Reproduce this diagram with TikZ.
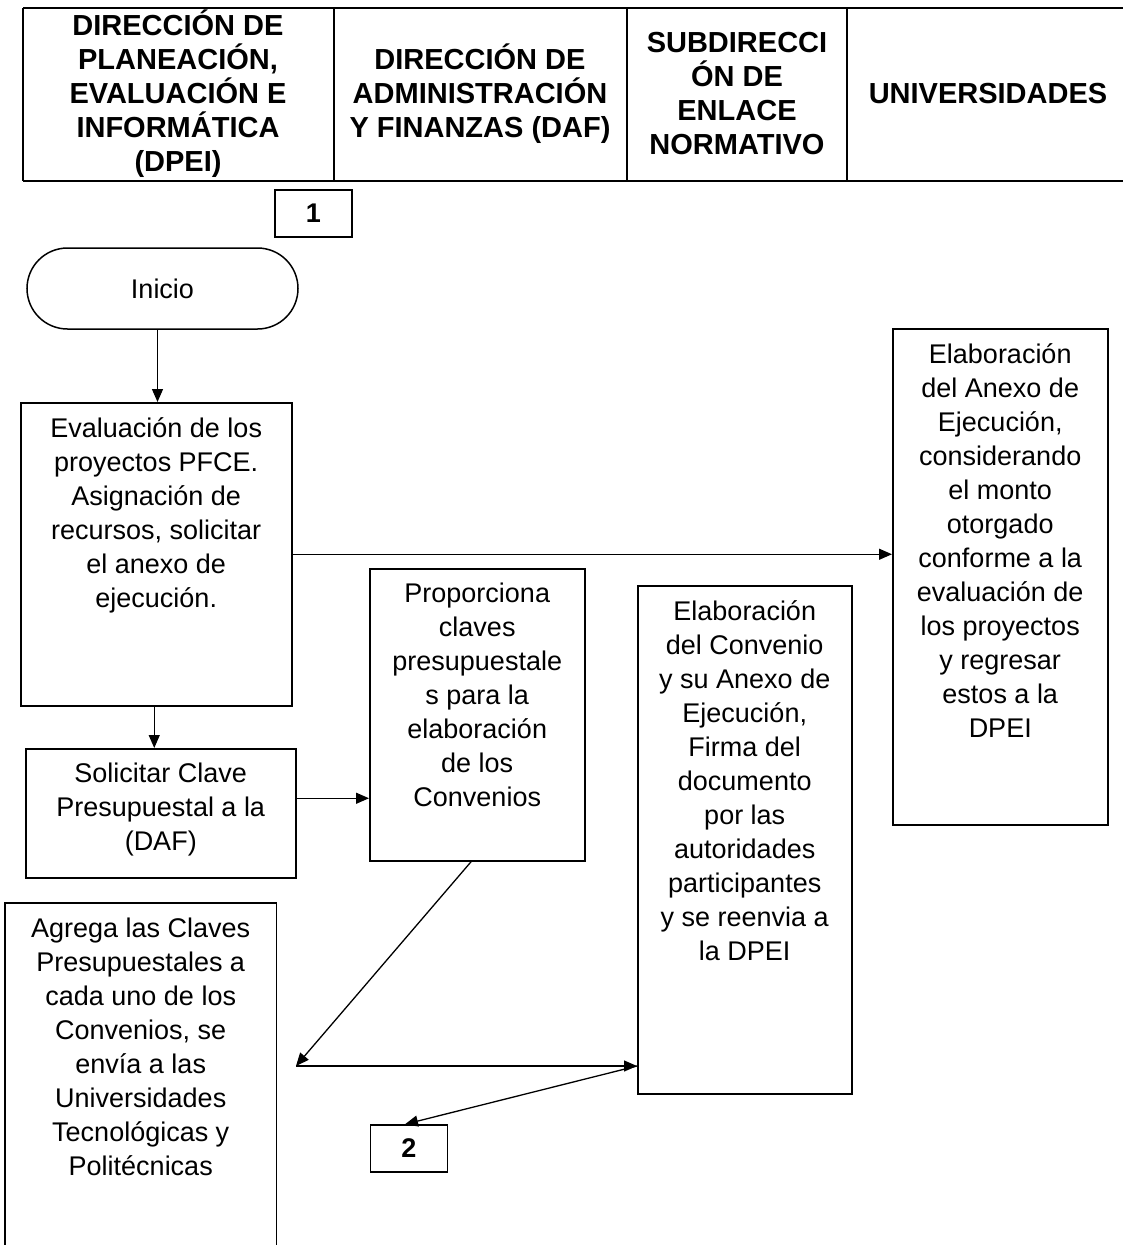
\documentclass[tikz,border=0pt]{standalone}
\usepackage{fontspec}
\setmainfont{Liberation Sans}
\usetikzlibrary{arrows.meta,shapes.misc}

\tikzset{
  caja/.style={draw, line width=1.5pt, inner sep=0pt, anchor=north west},
  texto/.style={align=center, inner sep=0pt, anchor=north,
    font=\fontsize{27}{34}\selectfont, execute at begin node=\rule{0pt}{26pt}},
  encab/.style={align=center, inner sep=0pt, font=\fontsize{29}{34}\selectfont\bfseries},
  numero/.style={draw, line width=1.5pt, inner sep=0pt, minimum width=77pt,
    minimum height=47pt, font=\fontsize{27}{30}\selectfont\bfseries},
  flecha/.style={line width=1.3pt, -{Triangle[length=13pt,width=11pt]}}
}

\begin{document}
\begin{tikzpicture}[x=1pt,y=-1pt]
        \useasboundingbox (0,0) rectangle (1123,1245);

        % encabezado
        \draw[line width=2pt] (23,8) -- (1123,8);
        \draw[line width=2pt] (23,181) -- (1123,181);
        \foreach \x in {23,334,627,847}
            \draw[line width=2pt] (\x,8) -- (\x,181);

        \node[encab] (dpei) at (178,94) {DIRECCIÓN DE\\PLANEACIÓN,\\EVALUACIÓN E\\INFORMÁTICA\\(DPEI)};
        \node[encab] (daf) at (480,94) {DIRECCIÓN DE\\ADMINISTRACIÓN\\Y FINANZAS (DAF)};
        \node[encab] (sen) at (737,94) {SUBDIRECCI\\ÓN DE\\ENLACE\\NORMATIVO};
        \node[encab] (univ) at (988,94) {UNIVERSIDADES};

        % conectores de pagina
        \node[numero] (uno) at (313.5,213.5) {1};
        \node[numero] (dos) at (409,1148.5) {2};

        \node[draw, line width=1.5pt, rounded rectangle, minimum width=271pt, minimum height=81pt,
              inner sep=0pt, font=\fontsize{27}{34}\selectfont] (inicio) at (162.5,288.5) {Inicio};

        % cajas
        \node[caja, minimum width=271pt, minimum height=303pt] (eval) at (20,402) {};
        \node[caja, minimum width=270pt, minimum height=129pt] (sol) at (25,748) {};
        \node[caja, minimum width=215pt, minimum height=292pt] (prop) at (369,568) {};
        \node[caja, minimum width=214pt, minimum height=508pt] (conv) at (637,585) {};
        \node[caja, minimum width=215pt, minimum height=496pt] (anexo) at (892,328) {};
        \node[caja, draw=none, minimum width=270pt, minimum height=342pt] (agrega) at (5,903) {};
        \draw[line width=1.5pt] (agrega.south west) -- (agrega.north west)
            -- (agrega.north east) -- (agrega.south east);

        \node[texto] (evalt) at ([yshift=-15pt]eval.north) {Evaluación de los\\proyectos PFCE.\\Asignación de\\recursos, solicitar\\el anexo de\\ejecución.};
        \node[texto] (solt) at ([yshift=-15pt]sol.north) {Solicitar Clave\\Presupuestal a la\\(DAF)};
        \node[texto] (propt) at ([yshift=-15pt]prop.north) {Proporciona\\claves\\presupuestale\\s para la\\elaboración\\de los\\Convenios};
        \node[texto] (convt) at ([yshift=-15pt]conv.north) {Elaboración\\del Convenio\\y su Anexo de\\Ejecución,\\Firma del\\documento\\por las\\autoridades\\participantes\\y se reenvia a\\la DPEI};
        \node[texto] (anexot) at ([yshift=-15pt]anexo.north) {Elaboración\\del Anexo de\\Ejecución,\\considerando\\el monto\\otorgado\\conforme a la\\evaluación de\\los proyectos\\y regresar\\estos a la\\DPEI};
        \node[texto] (agregat) at ([yshift=-15pt]agrega.north) {Agrega las Claves\\Presupuestales a\\cada uno de los\\Convenios, se\\envía a las\\Universidades\\Tecnológicas y\\Politécnicas};

        % flechas
        \coordinate (j) at (296,1066);
        \coordinate (k) at (j -| conv.west);
        \draw[flecha] ([xshift=-5pt]inicio.south) -- ([xshift=-5pt]inicio.south |- eval.north);
        \draw[flecha] ([xshift=-2pt]eval.south) -- ([xshift=-2pt]eval.south |- sol.north);
        \draw[flecha] (eval.east) -- (eval.east -| anexo.west);
        \draw[flecha] ([yshift=15pt]sol.east) -- ([yshift=15pt]sol.east -| prop.west);
        \draw[flecha] ([xshift=-6pt]prop.south) -- (j);
        \draw[flecha] (j) -- (k);
        \draw[flecha] (k) -- ([xshift=-4pt]dos.north);
\end{tikzpicture}
\end{document}
